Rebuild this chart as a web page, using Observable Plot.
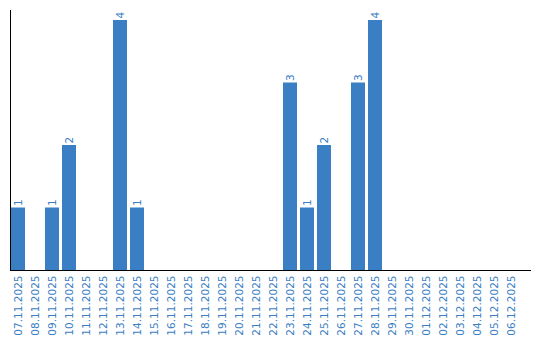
<!DOCTYPE html>
<html><head><meta charset="utf-8">
<script src="https://cdn.jsdelivr.net/npm/d3@7"></script>
<script src="https://cdn.jsdelivr.net/npm/@observablehq/plot@0.6"></script>
<style>body{margin:0;background:#fff;}</style>
</head><body><div id="chart"></div>
<script>
const dates = ["07.11.2025","08.11.2025","09.11.2025","10.11.2025","11.11.2025","12.11.2025","13.11.2025","14.11.2025","15.11.2025","16.11.2025","17.11.2025","18.11.2025","19.11.2025","20.11.2025","21.11.2025","22.11.2025","23.11.2025","24.11.2025","25.11.2025","26.11.2025","27.11.2025","28.11.2025","29.11.2025","30.11.2025","01.12.2025","02.12.2025","03.12.2025","04.12.2025","05.12.2025","06.12.2025"];
const counts = [1,0,1,2,0,0,4,1,0,0,0,0,0,0,0,0,3,1,2,0,3,4,0,0,0,0,0,0,0,0];
const data = dates.map((d, i) => ({date: d, count: counts[i]}));
const blue = "#3a7ec3";
const chart = Plot.plot({
  width: 540, height: 340,
  marginTop: 10, marginLeft: 10, marginRight: 10, marginBottom: 70,
  style: {fontFamily: "DejaVu Sans", fontSize: "10.5px", background: "#fff"},
  x: {domain: dates, range: [11, 518], paddingInner: 0.1765, paddingOuter: 0, align: 0, round: false, label: null, axis: null},
  y: {domain: [0, 4.16], axis: null},
  marks: [
    Plot.barY(data, {x: "date", y: "count", fill: blue, inset: 0}),
    Plot.text(data.filter(d => d.count > 0), {x: "date", y: "count", text: d => String(d.count), rotate: -90, textAnchor: "start", dy: -2, fill: blue}),
    Plot.axisX({tickSize: 0, tickPadding: 5, tickRotate: -90, color: blue, label: null}),
    Plot.frame({anchor: "left", stroke: "#000"}),
    Plot.frame({anchor: "bottom", stroke: "#000"})
  ]
});
document.getElementById("chart").append(chart);
</script>
</body></html>
